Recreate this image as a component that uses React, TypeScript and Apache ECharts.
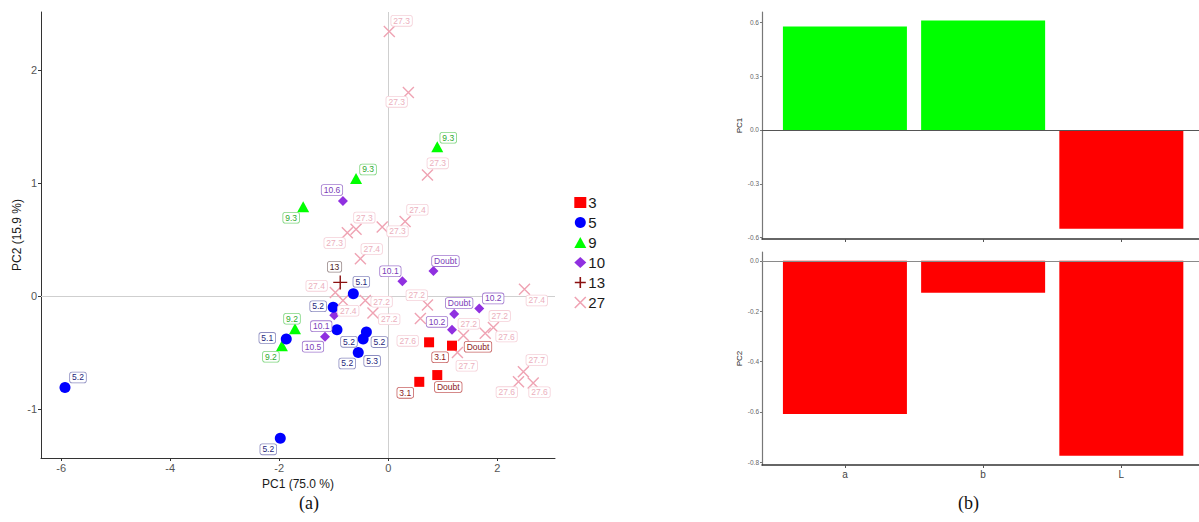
import React, { useEffect, useRef } from 'react';
import * as echarts from 'echarts';

// ---------- PCA score plot data (a) ----------
const groupNames = ['3', '5', '9', '10', '13', '27'];

const g3Points = [[0.75, -0.41], [1.17, -0.44], [0.57, -0.76], [0.9, -0.7]];
const g3Labels = ['3.1', 'Doubt', '3.1', 'Doubt'];

const g5Points = [
  [-5.93, -0.81], [-1.98, -1.26], [-1.87, -0.38], [-0.64, 0.02], [-1.01, -0.1],
  [-0.94, -0.3], [-0.4, -0.32], [-0.46, -0.38], [-0.55, -0.5],
];
const g5Labels = ['5.2', '5.2', '5.1', '5.1', '5.2', '5.2', '5.2', '5.3', '5.2'];

const g9Points = [[-1.56, 0.79], [-0.59, 1.04], [0.9, 1.32], [-1.71, -0.29], [-1.95, -0.44]];
const g9Labels = ['9.3', '9.3', '9.3', '9.2', '9.2'];

const g10Points = [
  [-0.83, 0.84], [0.83, 0.22], [0.26, 0.13], [1.67, -0.11], [1.21, -0.16],
  [1.17, -0.3], [-0.99, -0.17], [-1.16, -0.36],
];
const g10Labels = ['10.6', 'Doubt', '10.1', '10.2', 'Doubt', '10.2', '10.1', '10.5'];

const g13Points = [[-0.88, 0.12]];
const g13Labels = ['13'];

const g27Points = [
  [0.02, 2.34], [0.37, 1.8], [0.72, 1.07], [0.31, 0.66], [-0.11, 0.61], [-0.59, 0.59],
  [-0.75, 0.56], [-0.51, 0.33], [-0.97, 0.03], [-0.83, -0.04], [-0.42, -0.04], [-0.28, -0.15],
  [0.72, -0.08], [0.59, -0.2], [2.5, 0.06], [1.93, -0.28], [1.78, -0.33], [1.38, -0.35],
  [1.27, -0.5], [2.48, -0.67], [2.39, -0.76], [2.66, -0.77],
];
const g27Labels = [
  '27.3', '27.3', '27.3', '27.4', '27.3', '27.3', '27.3', '27.4', '27.4', '27.4', '27.2',
  '27.2', '27.2', '27.6', '27.4', '27.2', '27.6', '27.2', '27.7', '27.7', '27.6', '27.6',
];

const scoreXTicks = [-6, -4, -2, 0, 2];
const scoreYTicks = [-1, 0, 1, 2];

// ---------- Loadings data (b) ----------
const loadingCategories = ['a', 'b', 'L'];
const pc1Loadings = [0.576, 0.609, -0.55];
const pc2Loadings = [-0.608, -0.127, -0.774];
const pc1Ticks = [-0.6, -0.3, 0, 0.3, 0.6];
const pc2Ticks = [-0.8, -0.6, -0.4, -0.2, 0];
const categoryPositions = [1, 2, 3];

// ---------- label placement (repel-like offsets, px) ----------
const g3Offsets = [[11, 15], [26, 1], [-14, 11], [11, 12]];
const g5Offsets = [[13, -10], [-12, 11], [-19, -1], [8, -12], [-15, -1], [12, 12], [13, 10], [9, 22], [-11, 11]];
const g9Offsets = [[-12, 11], [12, -9], [11, -9], [-3, -10], [-11, 11]];
const g10Offsets = [[-11, -11], [12, -10], [-12, -10], [14, -10], [5, -11], [-15, -8], [-13, 11], [-12, 10]];
const g13Offsets = [[-5, -15]];
const g27Offsets = [
  [13, -10], [-11, 10], [11, -11], [13, -11], [16, 5], [9, -11], [-12, 11], [12, -9], [-18, -6],
  [6, 11], [17, 2], [17, 7], [-10, -9], [-12, 23], [13, 12], [7, -11], [22, 4], [6, -11],
  [10, 14], [14, -11], [-11, 11], [7, 10],
];

const PLUS = 'path://M5,0L5,10M0,5L10,5';
const CROSS = 'path://M0,0L10,10M10,0L0,10';

const groupStyles: Record<string, any> = {
  '3': { symbol: 'rect', size: [10, 10], fill: '#FF0000', stroke: null, text: '#8B1A1A', border: '#C86464' },
  '5': { symbol: 'circle', size: [11, 11], fill: '#0000FF', stroke: null, text: '#1E1E7A', border: '#8C8CC0' },
  '9': { symbol: 'triangle', size: [12, 11], fill: '#00FF00', stroke: null, text: '#2EAA2E', border: '#7ED67E' },
  '10': { symbol: 'diamond', size: [10, 10], fill: '#9030E0', stroke: null, text: '#7A3DB8', border: '#A27ACF' },
  '13': { symbol: PLUS, size: [14, 14], fill: 'transparent', stroke: '#8B1010', text: '#4A1A1A', border: '#9A8A8A' },
  '27': { symbol: CROSS, size: [11, 11], fill: 'transparent', stroke: '#EFA3B3', text: '#EBAFBD', border: '#F5D0D8' },
};

const groupData: Record<string, { pts: number[][]; labels: string[]; offs: number[][] }> = {
  '3': { pts: g3Points, labels: g3Labels, offs: g3Offsets },
  '5': { pts: g5Points, labels: g5Labels, offs: g5Offsets },
  '9': { pts: g9Points, labels: g9Labels, offs: g9Offsets },
  '10': { pts: g10Points, labels: g10Labels, offs: g10Offsets },
  '13': { pts: g13Points, labels: g13Labels, offs: g13Offsets },
  '27': { pts: g27Points, labels: g27Labels, offs: g27Offsets },
};

const SANS = '"Liberation Sans", Arial, sans-serif';

function buildOption(): any {
  const scatterOrder = ['27', '13', '10', '9', '5', '3'];
  const scatterSeries = scatterOrder.map((g) => {
    const st = groupStyles[g];
    const d = groupData[g];
    return {
      type: 'scatter',
      name: g,
      xAxisIndex: 0,
      yAxisIndex: 0,
      symbol: st.symbol,
      symbolSize: st.size,
      z: 3,
      itemStyle: st.stroke
        ? { color: st.fill, borderColor: st.stroke, borderWidth: 1.4, opacity: 1 }
        : { color: st.fill, opacity: 1 },
      data: d.pts.map((p, i) => ({
        value: p,
        name: d.labels[i],
        label: {
          position: [st.size[0] / 2 + d.offs[i][0], st.size[1] / 2 + d.offs[i][1]],
        },
      })),
      label: {
        show: true,
        align: 'center',
        verticalAlign: 'middle',
        distance: 0,
        formatter: '{b}',
        fontFamily: SANS,
        fontSize: 8.5,
        color: st.text,
        backgroundColor: '#ffffff',
        borderColor: st.border,
        borderWidth: 0.8,
        borderRadius: 2,
        padding: [1, 2, 0, 2],
      },
      labelLayout: { hideOverlap: false },
    };
  });

  const refSeries = {
    type: 'scatter',
    name: 'ref',
    xAxisIndex: 0,
    yAxisIndex: 0,
    data: [],
    markLine: {
      silent: true,
      z: 1,
      symbol: 'none',
      label: { show: false },
      lineStyle: { color: '#cfcfcf', width: 1, type: 'solid' },
      data: [{ xAxis: 0 }, { yAxis: 0 }],
    },
  };

  const zeroLine = (color: string) => ({
    silent: true,
    symbol: 'none',
    label: { show: false },
    lineStyle: { color, width: 1.2, type: 'solid' },
    data: [{ yAxis: 0 }],
  });

  const barSeries1 = {
    type: 'bar',
    xAxisIndex: 1,
    yAxisIndex: 1,
    barWidth: 124,
    data: pc1Loadings.map((v, i) => ({
      value: [categoryPositions[i], v],
      itemStyle: { color: v >= 0 ? '#00FF00' : '#FF0000' },
    })),
    markLine: zeroLine('#555555'),
  };
  const barSeries2 = {
    type: 'bar',
    xAxisIndex: 2,
    yAxisIndex: 2,
    barWidth: 124,
    data: pc2Loadings.map((v, i) => ({
      value: [categoryPositions[i], v],
      itemStyle: { color: v >= 0 ? '#00FF00' : '#FF0000' },
    })),
    markLine: zeroLine('#8a8a8a'),
  };

  const scoreAxisCommon = {
    type: 'value',
    axisLine: { show: true, onZero: false, lineStyle: { color: '#333333', width: 1 } },
    splitLine: { show: false },
    nameTextStyle: { fontFamily: SANS, fontSize: 12, color: '#1a1a1a' },
  };

  const barXCommon = {
    type: 'value',
    min: 0.4,
    max: 3.562,
    axisLine: { show: true, onZero: false, lineStyle: { color: '#333333', width: 1.5 } },
    splitLine: { show: false },
    axisTick: { show: true, customValues: categoryPositions, length: 3, lineStyle: { color: '#555' } },
  };

  const barYCommon = {
    type: 'value',
    nameLocation: 'middle',
    nameRotate: 90,
    nameGap: 19,
    nameTextStyle: { fontFamily: SANS, fontSize: 8, color: '#222' },
    axisLine: { show: true, onZero: false, lineStyle: { color: '#777777', width: 1.2 } },
    splitLine: { show: false },
  };

  return {
    animation: false,
    backgroundColor: '#ffffff',
    grid: [
      { left: 41, top: 12, width: 514, height: 446 },
      { left: 762, top: 12, right: 0, height: 227 },
      { left: 762, top: 252, right: 0, height: 213 },
    ],
    xAxis: [
      {
        ...scoreAxisCommon,
        gridIndex: 0,
        min: -6.37,
        max: 3.06,
        name: 'PC1 (75.0 %)',
        nameLocation: 'middle',
        nameGap: 18,
        axisTick: { show: true, customValues: scoreXTicks, length: 3, lineStyle: { color: '#333' } },
        axisLabel: {
          customValues: scoreXTicks,
          fontFamily: SANS,
          fontSize: 11,
          color: '#555555',
          margin: 4,
          formatter: (v: number) => String(v),
        },
      },
      {
        ...barXCommon,
        gridIndex: 1,
        axisLabel: { show: false },
      },
      {
        ...barXCommon,
        gridIndex: 2,
        axisLabel: {
          show: true,
          customValues: categoryPositions,
          fontFamily: SANS,
          fontSize: 10,
          color: '#444444',
          margin: 4,
          formatter: (v: number) => loadingCategories[Math.round(v) - 1],
        },
      },
    ],
    yAxis: [
      {
        ...scoreAxisCommon,
        gridIndex: 0,
        min: -1.434,
        max: 2.513,
        name: 'PC2 (15.9 %)',
        nameLocation: 'middle',
        nameRotate: 90,
        nameGap: 17,
        axisTick: { show: true, customValues: scoreYTicks, length: 3, lineStyle: { color: '#333' } },
        axisLabel: {
          customValues: scoreYTicks,
          fontFamily: SANS,
          fontSize: 11,
          color: '#555555',
          margin: 4,
          formatter: (v: number) => String(v),
        },
      },
      {
        ...barYCommon,
        gridIndex: 1,
        min: -0.607,
        max: 0.657,
        name: 'PC1',
        axisTick: { show: true, customValues: pc1Ticks, length: 2, lineStyle: { color: '#777' } },
        axisLabel: {
          customValues: pc1Ticks,
          fontFamily: SANS,
          fontSize: 6.5,
          color: '#666666',
          margin: 3,
          formatter: (v: number) => v.toFixed(1),
        },
      },
      {
        ...barYCommon,
        gridIndex: 2,
        min: -0.811,
        max: 0.035,
        name: 'PC2',
        axisTick: { show: true, customValues: pc2Ticks, length: 2, lineStyle: { color: '#777' } },
        axisLabel: {
          customValues: pc2Ticks,
          fontFamily: SANS,
          fontSize: 6.5,
          color: '#666666',
          margin: 3,
          formatter: (v: number) => v.toFixed(1),
        },
      },
    ],
    legend: {
      orient: 'vertical',
      left: 569,
      top: 190,
      itemWidth: 12,
      itemHeight: 11,
      itemGap: 5,
      textStyle: { fontFamily: SANS, fontSize: 15, color: '#1a1a1a', padding: [0, 0, 0, -3] },
      data: groupNames.map((g) => {
        const st = groupStyles[g];
        return {
          name: g,
          icon: st.symbol,
          itemStyle: st.stroke
            ? { color: 'transparent', borderColor: st.stroke, borderWidth: 1.6, opacity: 1 }
            : { color: st.fill, borderWidth: 0, opacity: 1 },
        };
      }),
    },
    graphic: [
      {
        type: 'text',
        left: 299,
        top: 494,
        style: { text: '(a)', font: '18px "Liberation Serif", "Times New Roman", serif', fill: '#111' },
      },
      {
        type: 'text',
        left: 958,
        top: 494,
        style: { text: '(b)', font: '18px "Liberation Serif", "Times New Roman", serif', fill: '#111' },
      },
    ],
    series: [refSeries, ...scatterSeries, barSeries1, barSeries2],
  };
}

export default function App() {
  const ref = useRef<HTMLDivElement>(null);
  useEffect(() => {
    if (!ref.current) return;
    const chart = echarts.init(ref.current, undefined, { renderer: 'svg' });
    chart.setOption(buildOption());
    return () => chart.dispose();
  }, []);
  return (
    <div
      ref={ref}
      style={{ position: 'absolute', left: 0, top: 0, width: 1199, height: 522, background: '#fff' }}
    />
  );
}
